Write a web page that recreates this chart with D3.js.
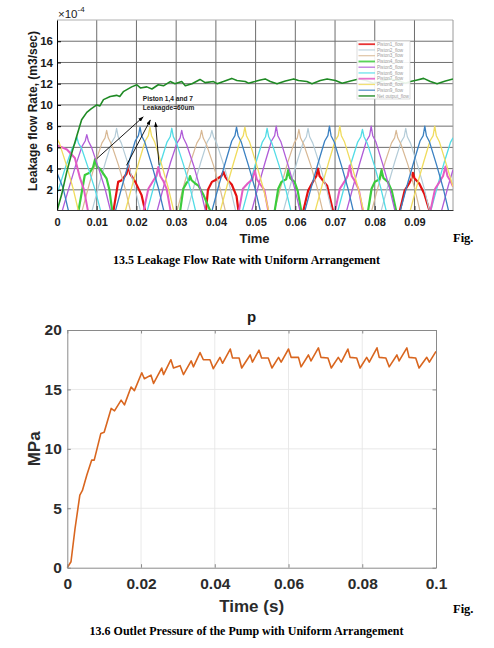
<!DOCTYPE html>
<html>
<head>
<meta charset="utf-8">
<script src="https://cdn.jsdelivr.net/npm/d3@7"></script>
<style>
body { margin: 0; background: #fff; }
svg { display: block; }
</style>
</head>
<body>
<svg></svg>
<script>
// ---- top chart: leakage flow (values in 1e-4 m3/s), [time, value] pairs
let piston1 = [[0,0],[0.0142,0],[0.0154,2.75],[0.0163,2.9],[0.0175,3.5],[0.0180,4.3],[0.0184,3.5],[0.0192,3.06],[0.0197,2.75],[0.0213,1.5],[0.0222,0],
  [0.0375,0],[0.0380,2.0],[0.0390,2.75],[0.0398,2.9],[0.0414,3.3],[0.0419,3.7],[0.0424,3.2],[0.0430,2.9],[0.0440,2.5],[0.0452,1.4],[0.0457,0],
  [0.0620,0],[0.0632,1.9],[0.0645,2.8],[0.0653,3.3],[0.0657,4.0],[0.0661,3.3],[0.0671,2.8],[0.0680,2.4],[0.0695,0],
  [0.0863,0],[0.0875,1.9],[0.0888,2.7],[0.0893,3.1],[0.0896,3.6],[0.0900,3.1],[0.0912,2.6],[0.0925,1.6],[0.0938,0],[0.0997,0]]
let piston2 = [[0,0],[0.0088,0],[0.0106,2.5],[0.0122,4.6],[0.0138,6.5],[0.0146,7.0],[0.0150,7.8],[0.0154,7.0],[0.0162,6.4],[0.0180,4.3],[0.0196,2.2],[0.0210,0],
  [0.0328,0],[0.0346,2.5],[0.0362,4.6],[0.0378,6.5],[0.0386,7.0],[0.0390,7.6],[0.0394,7.0],[0.0402,6.4],[0.0420,4.3],[0.0436,2.2],[0.0450,0],
  [0.0570,0],[0.0588,2.5],[0.0604,4.6],[0.0620,6.5],[0.0628,7.0],[0.0632,7.8],[0.0636,7.0],[0.0644,6.4],[0.0662,4.3],[0.0678,2.2],[0.0692,0],
  [0.0816,0],[0.0834,2.5],[0.0850,4.6],[0.0866,6.5],[0.0874,7.0],[0.0878,7.8],[0.0882,7.0],[0.0890,6.4],[0.0908,4.3],[0.0924,2.2],[0.0938,0],[0.0997,0]]
let piston3 = [[0,0],[0.0063,0],[0.0081,2.5],[0.0097,4.6],[0.0113,6.4],[0.0121,6.9],[0.0125,7.6],[0.0129,6.9],[0.0137,6.3],[0.0155,4.3],[0.0171,2.2],[0.0185,0],
  [0.0302,0],[0.0320,2.5],[0.0336,4.6],[0.0352,6.4],[0.0360,6.9],[0.0364,7.6],[0.0368,6.9],[0.0376,6.3],[0.0394,4.3],[0.0410,2.2],[0.0424,0],
  [0.0547,0],[0.0565,2.5],[0.0581,4.6],[0.0597,6.4],[0.0605,6.9],[0.0609,7.7],[0.0613,6.9],[0.0621,6.3],[0.0639,4.3],[0.0655,2.2],[0.0669,0],
  [0.0792,0],[0.0810,2.5],[0.0826,4.6],[0.0842,6.4],[0.0850,6.9],[0.0854,7.6],[0.0858,6.9],[0.0866,6.3],[0.0884,4.3],[0.0900,2.2],[0.0914,0],[0.0997,0]]
let piston4 = [[0,0],[0.0054,0],[0.0070,3.4],[0.0082,3.6],[0.0091,4.15],[0.0096,4.9],[0.0100,4.2],[0.0108,4.0],[0.0125,3.05],[0.0132,2.0],[0.0139,0],
  [0.0310,0],[0.0318,2.1],[0.0327,2.7],[0.0332,2.9],[0.0335,3.3],[0.0339,2.9],[0.0348,2.6],[0.0356,2.4],[0.0369,1.5],[0.0386,0],
  [0.0548,0],[0.0557,2.1],[0.0565,2.75],[0.0577,3.0],[0.0582,3.85],[0.0587,3.1],[0.0598,2.75],[0.0606,1.9],[0.0615,0],
  [0.0783,0],[0.0792,2.1],[0.0800,2.75],[0.0812,3.0],[0.0817,3.85],[0.0822,3.1],[0.0833,2.75],[0.0843,1.9],[0.0854,0],[0.0997,0]]
let piston5 = [[0,0],[0.0013,0],[0.0031,2.3],[0.0047,4.3],[0.0063,6.1],[0.0071,6.6],[0.0075,7.2],[0.0079,6.6],[0.0087,6.0],[0.0105,4.0],[0.0121,2.1],[0.0135,0],
  [0.0252,0],[0.0270,2.5],[0.0286,4.6],[0.0302,6.4],[0.0310,6.9],[0.0314,7.6],[0.0318,6.9],[0.0326,6.3],[0.0344,4.3],[0.0360,2.2],[0.0374,0],
  [0.0490,0],[0.0508,2.5],[0.0524,4.6],[0.0540,6.6],[0.0548,7.1],[0.0552,8.0],[0.0556,7.1],[0.0564,6.5],[0.0582,4.3],[0.0598,2.2],[0.0612,0],
  [0.0729,0],[0.0747,2.5],[0.0763,4.6],[0.0779,6.6],[0.0787,7.1],[0.0791,8.0],[0.0795,7.1],[0.0803,6.5],[0.0821,4.3],[0.0837,2.2],[0.0851,0],
  [0.0968,0],[0.0986,2.5],[0.0997,3.9]]
let piston6 = [[0,1.6],[0.0006,2.3],[0.0022,4.2],[0.0038,5.9],[0.0046,6.4],[0.0050,7.0],[0.0054,6.4],[0.0062,5.9],[0.0080,3.9],[0.0096,2.0],[0.0110,0],
  [0.0227,0],[0.0245,2.5],[0.0261,4.6],[0.0277,6.5],[0.0285,7.0],[0.0289,7.8],[0.0293,7.0],[0.0301,6.4],[0.0319,4.3],[0.0335,2.2],[0.0349,0],
  [0.0467,0],[0.0485,2.5],[0.0501,4.6],[0.0517,6.5],[0.0525,7.0],[0.0529,7.8],[0.0533,7.0],[0.0541,6.4],[0.0559,4.3],[0.0575,2.2],[0.0589,0],
  [0.0707,0],[0.0725,2.5],[0.0741,4.6],[0.0757,6.5],[0.0765,7.0],[0.0769,7.7],[0.0773,7.0],[0.0781,6.4],[0.0799,4.3],[0.0815,2.2],[0.0829,0],
  [0.0941,0],[0.0959,2.5],[0.0975,4.6],[0.0991,6.5],[0.0997,6.9]]
let piston7 = [[0,6.2],[0.0025,5.8],[0.0045,5.0],[0.0058,3.1],[0.0068,2.0],[0.0078,0],
  [0.0218,0],[0.0230,2.1],[0.0243,2.9],[0.0250,3.3],[0.0255,4.15],[0.0260,3.3],[0.0268,2.8],[0.0276,2.1],[0.0286,0],
  [0.0458,0],[0.0468,2.1],[0.0480,2.6],[0.0492,3.0],[0.0498,3.8],[0.0503,3.0],[0.0512,2.5],[0.0522,2.0],[0.0532,0],
  [0.0700,0],[0.0712,2.1],[0.0724,2.8],[0.0732,3.3],[0.0737,4.3],[0.0742,3.3],[0.0750,2.8],[0.0760,2.0],[0.0770,0],
  [0.0940,0],[0.0952,2.1],[0.0964,2.8],[0.0972,3.3],[0.0978,4.2],[0.0983,3.3],[0.0991,2.8],[0.0997,2.3]]
let piston8 = [[0,6.8],[0.0006,6.4],[0.0024,4.3],[0.0040,2.2],[0.0054,0],
  [0.0172,0],[0.0190,2.5],[0.0206,4.6],[0.0222,6.6],[0.0230,7.1],[0.0234,7.9],[0.0238,7.1],[0.0246,6.5],[0.0264,4.3],[0.0280,2.2],[0.0294,0],
  [0.0411,0],[0.0429,2.5],[0.0445,4.6],[0.0461,6.6],[0.0469,7.1],[0.0473,7.9],[0.0477,7.1],[0.0485,6.5],[0.0503,4.3],[0.0519,2.2],[0.0533,0],
  [0.0650,0],[0.0668,2.5],[0.0684,4.6],[0.0700,6.6],[0.0708,7.1],[0.0712,8.0],[0.0716,7.1],[0.0724,6.5],[0.0742,4.3],[0.0758,2.2],[0.0772,0],
  [0.0889,0],[0.0907,2.5],[0.0923,4.6],[0.0939,6.6],[0.0947,7.1],[0.0951,8.0],[0.0955,7.1],[0.0963,6.5],[0.0981,4.3],[0.0997,2.3]]
let piston9 = [[0,3.6],[0.0015,2.2],[0.0029,0],
  [0.0147,0],[0.0165,2.5],[0.0181,4.6],[0.0197,6.6],[0.0205,7.1],[0.0209,7.9],[0.0213,7.1],[0.0221,6.5],[0.0239,4.3],[0.0255,2.2],[0.0269,0],
  [0.0390,0],[0.0408,2.5],[0.0424,4.6],[0.0440,6.6],[0.0448,7.1],[0.0452,7.9],[0.0456,7.1],[0.0464,6.5],[0.0482,4.3],[0.0498,2.2],[0.0512,0],
  [0.0624,0],[0.0642,2.5],[0.0658,4.6],[0.0674,6.6],[0.0682,7.1],[0.0686,8.0],[0.0690,7.1],[0.0698,6.5],[0.0716,4.3],[0.0732,2.2],[0.0746,0],
  [0.0864,0],[0.0882,2.5],[0.0898,4.6],[0.0914,6.6],[0.0922,7.1],[0.0926,8.0],[0.0930,7.1],[0.0938,6.5],[0.0956,4.3],[0.0972,2.2],[0.0986,0],[0.0997,0]]
let netOutput = [[0,0],[0.0012,1.6],[0.0024,3.6],[0.0037,5.45],[0.0050,7.1],[0.0062,8.6],[0.0075,9.3],[0.0085,9.6],[0.0100,10.0],[0.0108,9.9],
  [0.0117,10.5],[0.0134,10.8],[0.0150,10.9],[0.0158,10.8],[0.0167,11.25],[0.0188,11.7],[0.0201,11.9],[0.0210,11.6],[0.0226,11.7],[0.0239,11.5],
  [0.0255,11.9],[0.0268,11.8],[0.0285,12.2],[0.0297,12.0],[0.0314,12.2],[0.0323,11.8],[0.0340,12.0],[0.0360,12.4],[0.0373,12.1],[0.0394,12.2],
  [0.0403,12.0],[0.0419,12.2],[0.0440,12.5],[0.0453,12.3],[0.0474,12.2],[0.0482,12.05],[0.0498,12.2],[0.0512,12.35],[0.0524,12.45],[0.0537,12.2],
  [0.0554,12.0],[0.0575,12.25],[0.0596,12.45],[0.0608,12.3],[0.0629,12.2],[0.0642,12.0],[0.0663,12.3],[0.0680,12.45],[0.0701,12.3],[0.0718,12.05],
  [0.0739,12.25],[0.0760,12.45],[0.0778,12.3],[0.0797,12.05],[0.0818,12.25],[0.0840,12.45],[0.0858,12.3],[0.0877,12.05],[0.0890,12.2],[0.0907,12.35],
  [0.0923,12.5],[0.0940,12.2],[0.0957,12.0],[0.0978,12.25],[0.0997,12.45]]

let flowNames = ['Piston1_flow', 'Piston2_flow', 'Piston3_flow', 'Piston4_flow', 'Piston5_flow',
  'Piston6_flow', 'Piston7_flow', 'Piston8_flow', 'Piston9_flow', 'Net output_flow']
let flowSeries = [piston1, piston2, piston3, piston4, piston5, piston6, piston7, piston8, piston9, netOutput]
let flowXTicks = [0, 0.01, 0.02, 0.03, 0.04, 0.05, 0.06, 0.07, 0.08, 0.09]
let flowYTicks = [2, 4, 6, 8, 10, 12, 14, 16]
let noteLines = ['Piston 1,4 and 7', 'Leakagde=60um']

// ---- bottom chart: outlet pressure
let pTime = [0, 0.001, 0.0021, 0.0034, 0.0041, 0.0053, 0.0066, 0.0073, 0.0091, 0.0100,
  0.0119, 0.0128, 0.0146, 0.0155, 0.0173, 0.0182, 0.0202, 0.0209, 0.0227, 0.0234,
  0.0256, 0.0261, 0.0281, 0.0288, 0.0306, 0.0315, 0.0336, 0.0342, 0.0360, 0.0369,
  0.0387, 0.0396, 0.0414, 0.0421, 0.0442, 0.0448, 0.0466, 0.0473, 0.0496, 0.0502,
  0.0520, 0.0527, 0.0545, 0.0555, 0.0573, 0.0580, 0.0600, 0.0607, 0.0627, 0.0634,
  0.0654, 0.0661, 0.0681, 0.0688, 0.0707, 0.0716, 0.0735, 0.0743, 0.0761, 0.0767,
  0.0785, 0.0794, 0.0812, 0.0819, 0.0840, 0.0846, 0.0864, 0.0873, 0.0894, 0.0900,
  0.0921, 0.0927, 0.0945, 0.0954, 0.0975, 0.0982, 0.1000]
let pValue = [0, 0.5, 3.3, 6.1, 6.5, 7.8, 9.05, 9.05, 11.3, 11.4,
  13.4, 13.2, 14.1, 13.7, 15.2, 14.9, 16.4, 15.9, 16.2, 15.5,
  16.8, 16.25, 17.5, 16.8, 17.0, 16.25, 17.4, 16.9, 18.1, 17.5,
  17.5, 16.75, 17.7, 17.2, 18.4, 17.65, 17.65, 16.8, 17.9, 17.3,
  18.3, 17.65, 17.65, 16.8, 17.7, 17.3, 18.4, 17.7, 17.7, 16.9,
  17.9, 17.4, 18.5, 17.7, 17.65, 16.8, 17.7, 17.3, 18.4, 17.7,
  17.65, 16.8, 17.7, 17.3, 18.5, 17.7, 17.65, 16.9, 17.9, 17.4,
  18.5, 17.7, 17.65, 16.8, 17.7, 17.3, 18.2]
let pXTicks = [0, 0.02, 0.04, 0.06, 0.08, 0.1]
let pYTicks = [0, 5, 10, 15, 20]

// styles
let flowColors = ['#e41010', '#b4ccd8', '#d8b894', '#3ccc3c', '#b05cd8', '#52dce6', '#e35cc4', '#f0dc5e', '#3a80c2', '#1f8a24']
let flowWidths = [2.2, 1.2, 1.2, 2.2, 1.3, 1.3, 2.0, 1.3, 1.3, 1.6]

let sans = 'Liberation Sans, Arial, sans-serif'
let serif = 'Liberation Serif, Times New Roman, serif'

let svg = d3.select('svg').attr('width', 494).attr('height', 648)

let tickFmt = (d) => String(+d.toFixed(2))

let drawFlowChart = () => {
  let left = 57, right = 453, top = 20, bottom = 210
  let x = d3.scaleLinear().domain([0, 0.0997]).range([left, right])
  let y = d3.scaleLinear().domain([0.1, 18]).range([bottom, top])

  let g = svg.append('g')

  // grid
  g.selectAll('.vgrid').data(flowXTicks.filter(d => d > 0)).enter().append('line')
    .attr('x1', d => x(d)).attr('x2', d => x(d)).attr('y1', top).attr('y2', bottom)
    .attr('stroke', '#6e6e6e').attr('stroke-width', 1)
  g.selectAll('.hgrid').data(flowYTicks).enter().append('line')
    .attr('x1', left).attr('x2', right).attr('y1', d => y(d)).attr('y2', d => y(d))
    .attr('stroke', '#6e6e6e').attr('stroke-width', 1)

  // box
  g.append('line').attr('x1', left).attr('x2', right).attr('y1', top).attr('y2', top)
    .attr('stroke', '#b0b0b0')
  g.append('line').attr('x1', right).attr('x2', right).attr('y1', top).attr('y2', bottom)
    .attr('stroke', '#9a9a9a')

  svg.append('clipPath').attr('id', 'flowClip').append('rect')
    .attr('x', left).attr('y', top).attr('width', right - left).attr('height', bottom - top)

  let line = d3.line().x(d => x(d[0])).y(d => y(d[1]))
  g.append('g').attr('clip-path', 'url(#flowClip)')
    .selectAll('path').data(flowSeries).enter().append('path')
    .attr('d', d => line(d))
    .attr('fill', 'none')
    .attr('stroke', (d, i) => flowColors[i])
    .attr('stroke-width', (d, i) => flowWidths[i])
    .attr('stroke-linejoin', 'round')

  // axes
  let xAxis = d3.axisBottom(x).tickValues(flowXTicks).tickFormat(tickFmt)
    .tickSizeInner(-4).tickSizeOuter(0).tickPadding(8)
  let xg = g.append('g').attr('transform', 'translate(0,' + bottom + ')').call(xAxis)
  xg.select('.domain').attr('stroke', '#333')
  xg.selectAll('.tick line').attr('stroke', '#333')
  xg.selectAll('text').style('font-family', sans).style('font-size', '11px')
    .style('font-weight', 'bold').attr('fill', '#1a1a1a')

  let yAxis = d3.axisLeft(y).tickValues(flowYTicks)
    .tickSizeInner(-4).tickSizeOuter(0).tickPadding(4)
  let yg = g.append('g').attr('transform', 'translate(' + left + ',0)').call(yAxis)
  yg.select('.domain').attr('stroke', '#000')
  yg.selectAll('text').style('font-family', sans).style('font-size', '11.5px')
    .style('font-weight', 'bold').attr('fill', '#1a1a1a')

  // exponent
  let ex = g.append('text').attr('x', left + 1).attr('y', 17.5)
    .style('font-family', sans).style('font-size', '11.5px').attr('fill', '#222')
  ex.append('tspan').text('\u00d710')
  ex.append('tspan').attr('dy', -5.5).style('font-size', '8px').text('-4')

  g.append('text')
    .attr('transform', 'translate(36.5,' + ((top + bottom) / 2 - 4) + ') rotate(-90)')
    .attr('text-anchor', 'middle')
    .style('font-family', sans).style('font-size', '12px').style('font-weight', 'bold')
    .attr('fill', '#1a1a1a')
    .text('Leakage flow Rate, (m3/sec)')

  g.append('text').attr('x', 254.5).attr('y', 243).attr('text-anchor', 'middle')
    .style('font-family', sans).style('font-size', '13px').style('font-weight', 'bold')
    .attr('fill', '#1a1a1a').text('Time')

  // annotation
  let defs = svg.append('defs')
  defs.append('marker').attr('id', 'arrowHead')
    .attr('viewBox', '0 0 10 10').attr('refX', 9).attr('refY', 5)
    .attr('markerWidth', 6).attr('markerHeight', 6).attr('orient', 'auto')
    .append('path').attr('d', 'M0,1.5 L10,5 L0,8.5 z').attr('fill', '#000')

  let arrowTails = [[0.0100, 4.93], [0.0175, 4.31], [0.0257, 4.31]]
  let arrowHeads = [[0.0217, 8.87], [0.0235, 8.58], [0.0248, 8.35]]
  g.selectAll('.arrow').data(arrowTails).enter().append('line')
    .attr('x1', d => x(d[0])).attr('y1', d => y(d[1]))
    .attr('x2', (d, i) => x(arrowHeads[i][0])).attr('y2', (d, i) => y(arrowHeads[i][1]))
    .attr('stroke', '#000').attr('stroke-width', 0.9)
    .attr('marker-end', 'url(#arrowHead)')

  g.selectAll('.note').data(noteLines).enter().append('text')
    .attr('x', x(0.0216)).attr('y', (d, i) => y(10.33) + i * 8.5)
    .style('font-family', sans).style('font-size', '6.6px').style('font-weight', 'bold')
    .attr('fill', '#222').text(d => d)

  // legend
  let lg = g.append('g').attr('transform', 'translate(357,41)')
  lg.append('rect').attr('width', 53).attr('height', 58)
    .attr('fill', '#fff').attr('fill-opacity', 0.9)
    .attr('stroke', '#cfcfcf').attr('stroke-width', 0.7)
  let rows = lg.selectAll('.row').data(flowNames).enter().append('g')
    .attr('transform', (d, i) => 'translate(0,' + (3.2 + i * 5.75) + ')')
  rows.append('line').attr('x1', 1.5).attr('x2', 18).attr('y1', 0).attr('y2', 0)
    .attr('stroke', (d, i) => flowColors[i])
    .attr('stroke-width', (d, i) => Math.min(flowWidths[i], 1.8))
    .attr('stroke-opacity', 0.85)
  rows.append('text').attr('x', 20).attr('y', 1.7)
    .style('font-family', sans).style('font-size', '4.6px').attr('fill', '#9c9c9c')
    .text(d => d)
}

let drawPressureChart = () => {
  let left = 67.3, right = 436, top = 330, bottom = 567.7
  let x = d3.scaleLinear().domain([0, 0.1]).range([left, right])
  let y = d3.scaleLinear().domain([0, 20]).range([bottom, top])

  let g = svg.append('g')

  g.selectAll('.vgrid').data(pXTicks.slice(1, -1)).enter().append('line')
    .attr('x1', d => x(d)).attr('x2', d => x(d)).attr('y1', top).attr('y2', bottom)
    .attr('stroke', '#e6e6e6').attr('stroke-width', 0.9)
  g.selectAll('.hgrid').data(pYTicks.slice(1, -1)).enter().append('line')
    .attr('x1', left).attr('x2', right).attr('y1', d => y(d)).attr('y2', d => y(d))
    .attr('stroke', '#e6e6e6').attr('stroke-width', 0.9)

  let line = d3.line().x((d, i) => x(pTime[i])).y(d => y(d))
  g.append('path').attr('d', line(pValue))
    .attr('fill', 'none').attr('stroke', '#d9661f').attr('stroke-width', 1.6)
    .attr('stroke-linejoin', 'round')

  let styleAxis = (sel) => {
    sel.select('.domain').attr('stroke', '#8a8a8a')
    sel.selectAll('.tick line').attr('stroke', '#8a8a8a')
    sel.selectAll('text').style('font-family', sans).style('font-size', '15.5px')
      .style('font-weight', 'bold').attr('fill', '#2b2b2b')
  }

  let xg = g.append('g').attr('transform', 'translate(0,' + bottom + ')')
    .call(d3.axisBottom(x).tickValues(pXTicks).tickFormat(tickFmt).tickSizeInner(-3.5).tickSizeOuter(0).tickPadding(10))
  styleAxis(xg)
  let yg = g.append('g').attr('transform', 'translate(' + left + ',0)')
    .call(d3.axisLeft(y).tickValues(pYTicks).tickSizeInner(-3.5).tickSizeOuter(0).tickPadding(5.5))
  styleAxis(yg)
  let tg = g.append('g').attr('transform', 'translate(0,' + top + ')')
    .call(d3.axisTop(x).tickValues(pXTicks).tickFormat('').tickSizeInner(-3.5).tickSizeOuter(0))
  styleAxis(tg)
  let rg = g.append('g').attr('transform', 'translate(' + right + ',0)')
    .call(d3.axisRight(y).tickValues(pYTicks).tickFormat('').tickSizeInner(-3.5).tickSizeOuter(0))
  styleAxis(rg)

  g.append('text').attr('x', (left + right) / 2).attr('y', 321.5).attr('text-anchor', 'middle')
    .style('font-family', sans).style('font-size', '15px').style('font-weight', 'bold')
    .attr('fill', '#1a1a1a').text('p')

  g.append('text')
    .attr('transform', 'translate(39.5,' + (top + bottom) / 2 + ') rotate(-90)')
    .attr('text-anchor', 'middle')
    .style('font-family', sans).style('font-size', '17px').style('font-weight', 'bold')
    .attr('fill', '#2b2b2b').text('MPa')

  g.append('text').attr('x', (left + right) / 2).attr('y', 611.5).attr('text-anchor', 'middle')
    .style('font-family', sans).style('font-size', '17px').style('font-weight', 'bold')
    .attr('fill', '#2b2b2b').text('Time (s)')
}

let drawCaptions = () => {
  let caps = [
    { text: '13.5 Leakage Flow Rate with Uniform Arrangement', x: 246.5, y: 263.5 },
    { text: '13.6 Outlet Pressure of the Pump with Uniform Arrangement', x: 246.5, y: 634.5 }
  ]
  svg.selectAll('.cap').data(caps).enter().append('text')
    .attr('x', d => d.x).attr('y', d => d.y).attr('text-anchor', 'middle')
    .style('font-family', serif).style('font-size', '12px').style('font-weight', 'bold')
    .attr('fill', '#000').text(d => d.text)

  svg.selectAll('.fig').data([241.5, 612.5]).enter().append('text')
    .attr('x', 453).attr('y', d => d)
    .style('font-family', serif).style('font-size', '12.5px').style('font-weight', 'bold')
    .attr('fill', '#000').text('Fig.')
}

drawFlowChart()
drawPressureChart()
drawCaptions()
</script>
</body>
</html>
